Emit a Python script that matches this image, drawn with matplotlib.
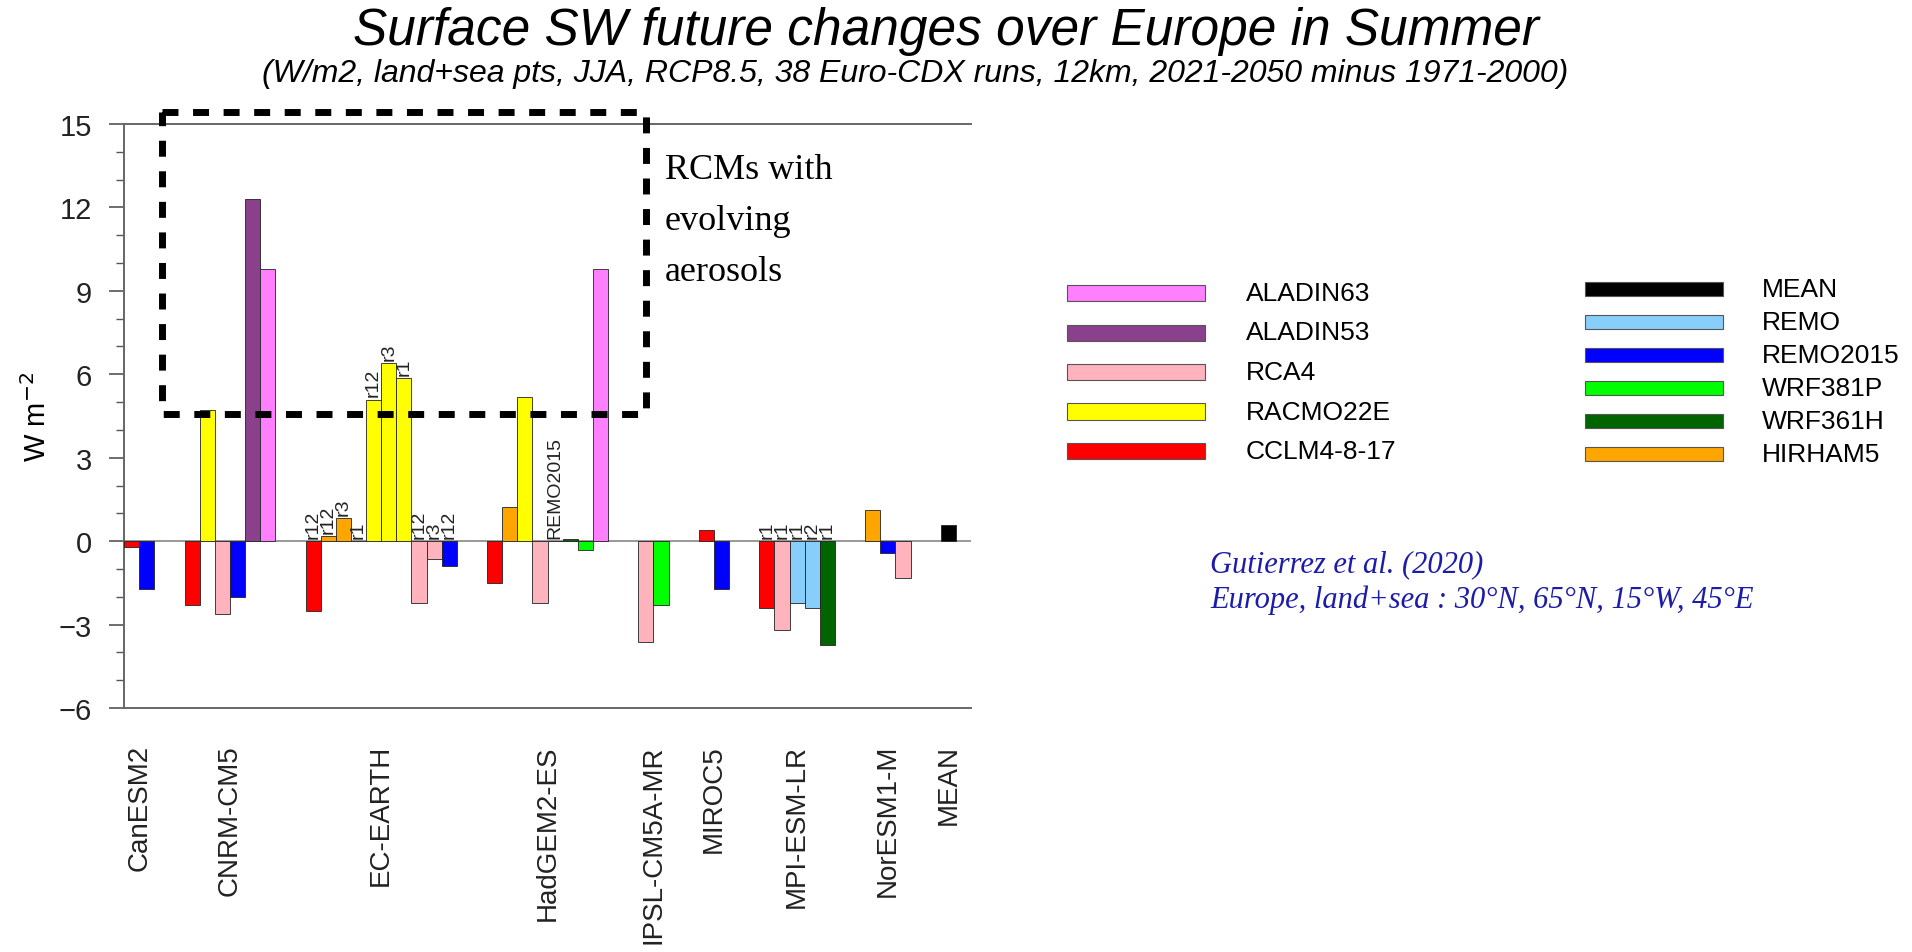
import numpy as np
import matplotlib
matplotlib.use("Agg")
import matplotlib.pyplot as plt
from matplotlib.patches import Rectangle

plt.rcParams['font.family'] = ['Liberation Sans', 'DejaVu Sans']

# driving GCMs (x groups)
gcms = ['CanESM2', 'CNRM-CM5', 'EC-EARTH', 'HadGEM2-ES', 'IPSL-CM5A-MR',
        'MIROC5', 'MPI-ESM-LR', 'NorESM1-M', 'MEAN']

# RCMs used in each group, in bar order
group_rcms = [
    ['CCLM4-8-17', 'REMO2015'],
    ['CCLM4-8-17', 'RACMO22E', 'RCA4', 'REMO2015', 'ALADIN53', 'ALADIN63'],
    ['CCLM4-8-17', 'HIRHAM5', 'HIRHAM5', 'HIRHAM5', 'RACMO22E', 'RACMO22E',
     'RACMO22E', 'RCA4', 'RCA4', 'REMO2015'],
    ['CCLM4-8-17', 'HIRHAM5', 'RACMO22E', 'RCA4', 'REMO2015', 'WRF361H',
     'WRF381P', 'ALADIN63'],
    ['RCA4', 'WRF381P'],
    ['CCLM4-8-17', 'REMO2015'],
    ['CCLM4-8-17', 'RCA4', 'REMO', 'REMO', 'WRF361H'],
    ['HIRHAM5', 'REMO2015', 'RCA4'],
    ['MEAN'],
]

# SW change (W m-2)
group_vals = [
    [-0.2, -1.73],
    [-2.3, 4.7, -2.62, -2.02, 12.3, 9.78],
    [-2.52, 0.19, 0.82, 0.0, 5.09, 6.4, 5.87, -2.23, -0.63, -0.91],
    [-1.52, 1.21, 5.2, -2.23, 0.0, 0.08, -0.31, 9.78],
    [-3.61, -2.3],
    [0.4, -1.73],
    [-2.42, -3.2, -2.23, -2.42, -3.73],
    [1.11, -0.43, -1.31],
    [0.58],
]

# member labels written above some bars
group_runs = [
    ['', ''],
    ['', '', '', '', '', ''],
    ['r12', 'r12', 'r3', 'r1', 'r12', 'r3', 'r1', 'r12', 'r3', 'r12'],
    ['', '', '', '', 'REMO2015', '', '', ''],
    ['', ''],
    ['', ''],
    ['r1', 'r1', 'r1', 'r2', 'r1'],
    ['', '', ''],
    [''],
]

legend_left = ['ALADIN63', 'ALADIN53', 'RCA4', 'RACMO22E', 'CCLM4-8-17']
legend_right = ['MEAN', 'REMO', 'REMO2015', 'WRF381P', 'WRF361H', 'HIRHAM5']

colors = {
    'ALADIN63': '#ff80ff',
    'ALADIN53': '#8b408b',
    'RCA4': '#ffb3bc',
    'RACMO22E': '#ffff00',
    'CCLM4-8-17': '#ff0000',
    'MEAN': '#000000',
    'REMO': '#87cefa',
    'REMO2015': '#0000ff',
    'WRF381P': '#00ff00',
    'WRF361H': '#006400',
    'HIRHAM5': '#ffa500',
}

W, H = 1912, 953
fig = plt.figure(figsize=(W / 100, H / 100), dpi=100)
ax = fig.add_axes([124 / W, 1 - 709 / H, 847 / W, 584 / H])


def fx(px):
    return px / W


def fy(py):
    return 1 - py / H


gap = 2
pos = 0
centers = []
for rcms, vals, runs in zip(group_rcms, group_vals, group_runs):
    x = pos + np.arange(len(vals))
    ax.bar(x, vals, width=1, align='edge', color=[colors[r] for r in rcms],
           edgecolor='#222222', linewidth=0.6, zorder=3)
    for xi, v, lab in zip(x, vals, runs):
        if lab:
            ax.text(xi + 0.5, max(v, 0) + 0.12, lab, rotation=90, ha='center',
                    va='bottom', fontsize=14, color='#222222', zorder=4)
    centers.append(pos + len(vals) / 2)
    pos += len(vals) + gap

ax.axhline(0, color='#888888', lw=1.2, zorder=2)
ax.set_xlim(0, 56)
ax.set_ylim(-6, 15)
ax.set_yticks(np.arange(-6, 16, 3))
ax.set_yticks(np.arange(-6, 16, 1), minor=True)
ax.tick_params(axis='y', which='major', direction='out', length=11, width=1.2,
               colors='#555555', labelcolor='#222222', labelsize=21, pad=12)
ax.tick_params(axis='y', which='minor', direction='out', length=6, width=1.0,
               colors='#555555')
ax.set_xticks(centers)
ax.set_xticklabels(gcms, rotation=90, va='top', ha='center', fontsize=20,
                   color='#222222')
ax.tick_params(axis='x', length=0, pad=26)
for s in ['left', 'top', 'bottom']:
    ax.spines[s].set_color('#666666')
    ax.spines[s].set_linewidth(1.4)
ax.spines['right'].set_visible(False)

# dashed box around RCMs with evolving aerosols
bx0, bx1, by0, by1 = 2.5, 34.5, 4.57, 15.43
ax.plot([bx0, bx1, bx1, bx0, bx0], [by1, by1, by0, by0, by1], color='black',
        lw=5, ls=(0, (2.3, 2.1)), dash_capstyle='butt', clip_on=False, zorder=5)

for i, line in enumerate(['RCMs with', 'evolving', 'aerosols']):
    fig.text(fx(665), fy(179 + 51 * i), line, fontsize=26, family='Liberation Serif',
             ha='left', va='baseline')

fig.text(fx(37), fy(417), r'W m$^{-2}$', rotation=90, ha='center', va='center',
         fontsize=21)

# titles
fig.text(fx(946), fy(31), 'Surface SW future changes over Europe in Summer',
         ha='center', va='center', fontsize=37, style='italic')
fig.text(fx(915), fy(74),
         '(W/m2, land+sea pts, JJA, RCP8.5, 38 Euro-CDX runs, 12km, 2021-2050 minus 1971-2000)',
         ha='center', va='center', fontsize=23, style='italic')

# legend drawn by hand, two columns
for i, name in enumerate(legend_left):
    yc = 294 + 39.5 * i
    fig.patches.append(Rectangle((fx(1067), fy(yc + 8)), fx(138), 16 / H,
                                 transform=fig.transFigure, facecolor=colors[name],
                                 edgecolor='#555555', linewidth=0.8))
    fig.text(fx(1246), fy(yc), name, ha='left', va='center', fontsize=19)
for i, name in enumerate(legend_right):
    yc = 290 + 33 * i
    fig.patches.append(Rectangle((fx(1585), fy(yc + 7)), fx(138), 14 / H,
                                 transform=fig.transFigure, facecolor=colors[name],
                                 edgecolor='#555555', linewidth=0.8))
    fig.text(fx(1762), fy(yc), name, ha='left', va='center', fontsize=19)

fig.text(fx(1210), fy(565), 'Gutierrez et al. (2020)', ha='left', va='center',
         fontsize=22, style='italic', family='Liberation Serif', color='#1c1ca8')
fig.text(fx(1210), fy(600), 'Europe, land+sea : 30°N, 65°N, 15°W, 45°E', ha='left',
         va='center', fontsize=22, style='italic', family='Liberation Serif',
         color='#1c1ca8')

fig.savefig('out.png', dpi=100)
